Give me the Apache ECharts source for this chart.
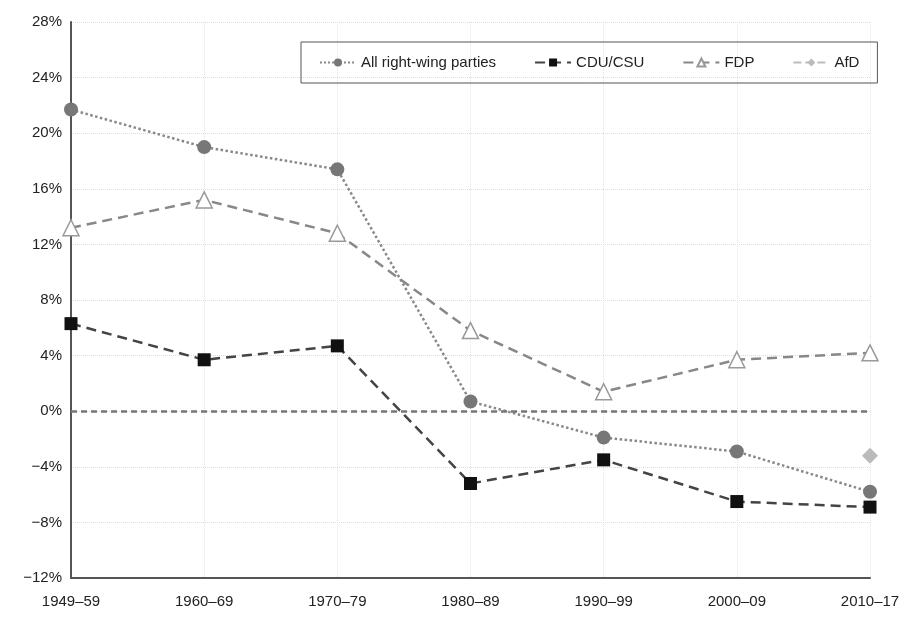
<!DOCTYPE html>
<html><head><meta charset="utf-8">
<script src="https://cdn.jsdelivr.net/npm/echarts@6/dist/echarts.min.js"></script>
<style>html,body{margin:0;padding:0;background:#fff}#c{width:912px;height:621px}</style>
</head><body><div id="c"></div>
<script>
const categories = ['1949–59','1960–69','1970–79','1980–89','1990–99','2000–09','2010–17'];
const allRight = [21.7, 19.0, 17.4, 0.7, -1.9, -2.9, -5.8];
const cduCsu = [6.3, 3.7, 4.7, -5.2, -3.5, -6.5, -6.9];
const fdp = [13.2, 15.2, 12.8, 5.8, 1.4, 3.7, 4.2];
const afd = [null, null, null, null, null, null, -3.2];
const yTicks = {min: -12, max: 28, interval: 4};

const chart = echarts.init(document.getElementById('c'));
const font = 'Liberation Sans, Arial, sans-serif';
chart.setOption({
  animation: false,
  textStyle: {fontFamily: font},
  grid: {left: 71, right: 42, top: 22, bottom: 43, containLabel: false},
  legend: {
    left: 301, top: 42,
    padding: [13, 18, 13, 18],
    borderColor: '#555', borderWidth: 1,
    itemGap: 38, itemWidth: 36, itemHeight: 10,
    textStyle: {fontSize: 15, color: '#222', fontFamily: font},
    data: ['All right-wing parties','CDU/CSU','FDP','AfD']
  },
  xAxis: {
    type: 'category', data: categories, boundaryGap: false,
    axisLine: {onZero: false, lineStyle: {color: '#555', width: 2}},
    axisTick: {show: false},
    axisLabel: {fontSize: 15, color: '#222', margin: 16},
    splitLine: {show: true, lineStyle: {color: '#e4e4e4', type: 'dotted', width: 1}}
  },
  yAxis: {
    type: 'value', min: yTicks.min, max: yTicks.max, interval: yTicks.interval,
    axisLine: {show: true, lineStyle: {color: '#555', width: 2}},
    axisTick: {show: false},
    axisLabel: {fontSize: 15, color: '#222', margin: 9, formatter: v => (v < 0 ? '−' + Math.abs(v) : v) + '%'},
    splitLine: {lineStyle: {color: '#dcdcdc', type: 'dotted', width: 1}}
  },
  series: [
    {name: 'All right-wing parties', type: 'line', data: allRight, symbol: 'circle', symbolSize: 14,
     itemStyle: {color: '#777'}, lineStyle: {color: '#888', type: 'dotted', width: 2.5}, z: 3,
     markLine: {silent: true, symbol: 'none', label: {show: false},
       lineStyle: {color: '#777', type: [6, 4], width: 2.5}, data: [{yAxis: 0}]}},
    {name: 'CDU/CSU', type: 'line', data: cduCsu, symbol: 'rect', symbolSize: 13,
     itemStyle: {color: '#111'}, lineStyle: {color: '#444', type: [10, 6], width: 2.5}, z: 4},
    {name: 'FDP', type: 'line', data: fdp, symbol: 'triangle', symbolSize: 16,
     itemStyle: {color: '#fff', borderColor: '#999', borderWidth: 1.5},
     lineStyle: {color: '#888', type: [10, 6], width: 2.5}, z: 2},
    {name: 'AfD', type: 'line', data: afd, symbol: 'diamond', symbolSize: 16,
     itemStyle: {color: '#bbb'}, lineStyle: {color: '#bbb', type: 'dashed', width: 2}, z: 2}
  ]
});
</script></body></html>
